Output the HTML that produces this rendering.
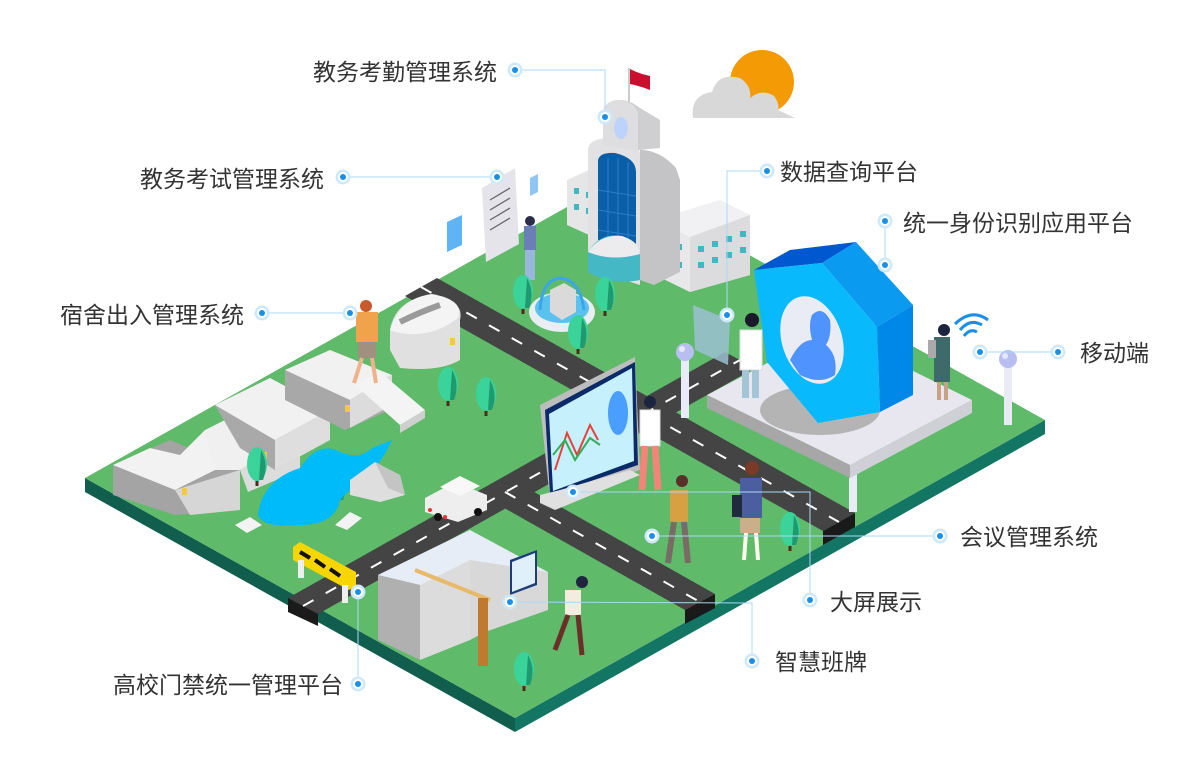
<!DOCTYPE html>
<html><head><meta charset="utf-8"><style>
html,body{margin:0;padding:0;background:#fff;}
svg{display:block}
text{font-family:"Liberation Sans","Noto Sans CJK SC",sans-serif;font-size:23px;fill:#333}
</style></head><body>
<svg width="1200" height="769" viewBox="0 0 1200 769" xmlns="http://www.w3.org/2000/svg">
<defs>
<g id="dot"><circle r="7.5" fill="#cde9fb"/><circle r="5" fill="#fff"/><circle r="3" fill="#1a8fe8"/></g>
<g id="tree"><rect x="-1.5" y="0" width="3" height="16" fill="#4a2e1c"/><ellipse cx="0" cy="-6" rx="10" ry="17" fill="#3ad49a"/><path d="M4 -20 Q12 -6 6 10 L2 10Z" fill="#1f9a70"/></g>
<g id="lamp"><rect x="-4" y="0" width="8" height="60" fill="#e9ecf6"/><circle cx="0" cy="-6" r="9" fill="#b9bef0"/><circle cx="-3" cy="-9" r="3" fill="#e6e8ff"/></g>
</defs>

<!-- platform -->
<polygon points="85,478 515,718 515,732 85,492" fill="#115e4e"/>
<polygon points="515,718 1045,420 1045,434 515,732" fill="#137563"/>
<polygon points="85,478 615,180 1045,420 515,718" fill="#5fba6a"/>

<!-- roads -->
<polygon points="405,296 437,278 855,513 823,531" fill="#444"/>
<polygon points="823,531 855,513 855,527 823,545" fill="#1a1a1a"/>
<polygon points="288,598 318,614 755,368 725,352" fill="#444"/>
<polygon points="288,598 318,614 318,626 288,612" fill="#1a1a1a"/>
<polygon points="490,500 520,484 715,594 685,610" fill="#444"/>
<polygon points="685,610 715,594 715,608 685,624" fill="#1a1a1a"/>
<g stroke="#fff" stroke-width="2" stroke-dasharray="12 14">
<line x1="421" y1="287" x2="839" y2="522"/>
<line x1="303" y1="606" x2="740" y2="360"/>
<line x1="505" y1="492" x2="700" y2="602"/>
</g>

<!-- sun & cloud -->
<circle cx="762" cy="82" r="32" fill="#f39a05"/>
<path d="M693 118 Q690 95 712 92 Q718 72 740 78 Q752 86 750 98 Q762 88 774 96 Q780 104 778 110 L795 118 Z" fill="#d8d8d8"/>

<!-- flag -->
<line x1="629" y1="68" x2="629" y2="110" stroke="#ccc" stroke-width="2"/>
<path d="M630 69 Q640 74 650 76 L650 90 Q640 86 630 84Z" fill="#c8102e"/>

<!-- main building -->
<polygon points="567,180 600,165 600,240 567,225" fill="#e6e6e6"/>
<polygon points="655,220 720,200 750,215 750,275 690,292 655,275" fill="#e8e8ea"/>
<polygon points="655,220 720,200 750,215 690,237" fill="#f1f1f3"/>
<polygon points="690,237 750,215 750,275 690,292" fill="#dcdcde"/>
<g fill="#41b7c4"><rect x="698" y="246" width="6" height="6"/><rect x="712" y="241" width="6" height="6"/><rect x="726" y="236" width="6" height="6"/><rect x="740" y="231" width="6" height="6"/><rect x="698" y="262" width="6" height="6"/><rect x="712" y="257" width="6" height="6"/><rect x="726" y="252" width="6" height="6"/><rect x="740" y="247" width="6" height="6"/><rect x="664" y="240" width="6" height="6"/><rect x="676" y="244" width="6" height="6"/><rect x="664" y="258" width="6" height="6"/><rect x="676" y="262" width="6" height="6"/><rect x="574" y="188" width="5" height="6"/><rect x="586" y="192" width="5" height="6"/><rect x="574" y="204" width="5" height="6"/><rect x="586" y="208" width="5" height="6"/></g>
<!-- tower -->
<path d="M640 150 Q660 150 676 168 L680 180 L680 272 L654 285 L640 280Z" fill="#c4c4c6"/>
<path d="M588 150 Q588 138 612 138 Q640 140 640 155 L640 285 L588 268Z" fill="#e2e2e4"/>
<path d="M603 112 Q605 100 620 100 Q630 100 640 108 L660 120 L660 148 L640 150 L603 145Z" fill="#cfcfd1"/>
<path d="M603 112 Q605 100 620 100 Q636 102 638 115 L638 150 L603 145Z" fill="#dedee0"/>
<ellipse cx="621" cy="128" rx="7" ry="11" fill="#bcd4fb"/>
<path d="M598 160 Q600 152 615 153 Q636 158 636 172 L636 252 L598 240Z" fill="#0a5fa8"/>
<g stroke="#2a7fc8" stroke-width="1"><line x1="608" y1="158" x2="608" y2="244"/><line x1="618" y1="158" x2="618" y2="246"/><line x1="628" y1="162" x2="628" y2="249"/><line x1="598" y1="190" x2="636" y2="196"/><line x1="598" y1="210" x2="636" y2="216"/><line x1="598" y1="230" x2="636" y2="236"/></g>
<path d="M588 252 Q600 232 622 236 Q640 242 640 254 L640 280 Q612 286 588 272Z" fill="#44b9c5"/>
<path d="M588 252 Q600 234 622 236 Q640 242 640 254 Q612 262 588 252Z" fill="#ececee"/>

<!-- paper docs -->
<polygon points="482,188 515,168 519,244 486,262" fill="#e4e4ea"/>
<g stroke="#666" stroke-width="1.3"><line x1="490" y1="200" x2="510" y2="188"/><line x1="490" y1="210" x2="510" y2="198"/><line x1="490" y1="220" x2="510" y2="208"/><line x1="490" y1="230" x2="510" y2="218"/></g>
<polygon points="447,222 462,215 462,245 447,252" fill="#5fb4f5"/>
<polygon points="530,178 538,174 538,192 530,196" fill="#8ec7f5"/>
<rect x="524" y="226" width="12" height="24" fill="#6a7fb8"/><rect x="525" y="250" width="10" height="30" fill="#9bb6dc"/><circle cx="530" cy="221" r="5" fill="#2a2e48"/>

<!-- fountain -->
<ellipse cx="562" cy="312" rx="33" ry="20" fill="#e8eef2"/><ellipse cx="562" cy="308" rx="27" ry="15" fill="#5bc1ee"/>
<polygon points="550,290 564,283 576,290 576,312 562,320 550,312" fill="#dadada"/>
<path d="M540 310 Q542 280 560 278 Q580 280 584 310" stroke="#39a6e8" stroke-width="3" fill="none"/>
<use href="#tree" x="523" y="298"/><use href="#tree" x="605" y="300"/><use href="#tree" x="578" y="338"/>

<!-- WEDS letters -->
<polygon points="113,465 170,440 240,470 240,510 175,515 113,495" fill="#a4a4a4"/>
<polygon points="113,465 150,448 180,455 205,430 225,440 215,470 175,490" fill="#f2f2f2"/>
<polygon points="175,490 240,470 240,510 190,515" fill="#d6d6d6"/>
<polygon points="205,430 255,405 300,432 240,470 215,470" fill="#f0f0f0"/>
<polygon points="240,470 300,432 300,470 248,492" fill="#dcdcdc"/>
<polygon points="215,405 270,378 330,410 330,440 275,470 240,448" fill="#a9a9a9"/>
<polygon points="215,405 270,378 330,410 275,440" fill="#f1f1f1"/>
<polygon points="275,440 330,410 330,440 275,470" fill="#dedede"/>
<polygon points="285,370 330,350 390,380 390,410 345,430 285,400" fill="#a8a8a8"/>
<polygon points="285,370 330,350 392,375 350,400" fill="#f1f1f1"/>
<polygon points="350,400 392,375 392,405 350,428" fill="#dcdcdc"/>
<path d="M390 330 Q395 300 430 295 Q465 300 460 320 L460 360 Q440 372 400 368 L390 350Z" fill="#e0e0e0"/>
<path d="M390 330 Q400 298 432 294 Q465 300 458 318 Q430 340 395 332Z" fill="#f4f4f4"/>
<path d="M400 322 Q420 312 440 305" stroke="#9a9a9a" stroke-width="6" fill="none"/>
<g fill="#f5c842"><rect x="182" y="488" width="5" height="7"/><rect x="262" y="452" width="5" height="7"/><rect x="345" y="405" width="5" height="7"/><rect x="450" y="338" width="5" height="7"/></g>
<polygon points="355,385 380,372 425,410 400,425" fill="#f4f4f4"/>
<polygon points="400,425 425,410 425,418 400,433" fill="#cfcfcf"/>
<rect x="356" y="312" width="22" height="30" fill="#f1a34c"/><rect x="358" y="342" width="18" height="16" fill="#a09080"/><circle cx="366" cy="306" r="6" fill="#c65a2a"/><line x1="362" y1="358" x2="354" y2="383" stroke="#eeb38b" stroke-width="4"/><line x1="372" y1="358" x2="376" y2="383" stroke="#eeb38b" stroke-width="4"/>

<use href="#tree" x="448" y="390"/><use href="#tree" x="486" y="400"/><use href="#tree" x="257" y="470"/><use href="#tree" x="337" y="490"/><use href="#tree" x="790" y="535"/><use href="#tree" x="524" y="675"/>

<path d="M258 515 Q262 480 300 468 Q318 440 340 452 Q360 460 372 448 L392 440 Q378 470 362 478 L340 500 Q335 525 300 525 Q262 528 258 515Z" fill="#00bbf9"/>
<polygon points="350,480 375,462 400,475 405,495 380,502 350,495" fill="#dedede"/>
<polygon points="375,462 400,475 405,495 388,488" fill="#c4c4c4"/>
<polygon points="235,525 250,517 262,525 247,533" fill="#f3f3f3"/><polygon points="335,525 350,512 362,518 347,530" fill="#f3f3f3"/>

<polygon points="425,498 455,482 487,495 487,510 458,522 425,512" fill="#eeeeee"/>
<polygon points="440,487 460,476 480,486 460,496" fill="#f8f8f8"/>
<circle cx="438" cy="517" r="4" fill="#111"/><circle cx="478" cy="512" r="4" fill="#111"/>
<circle cx="430" cy="510" r="2" fill="#e33"/><circle cx="445" cy="517" r="2" fill="#e33"/>

<polygon points="293,547 300,542 356,572 356,586 349,590 293,560" fill="#f7d600"/>
<g stroke="#111" stroke-width="4"><line x1="300" y1="552" x2="310" y2="558"/><line x1="315" y1="560" x2="325" y2="567"/><line x1="330" y1="569" x2="340" y2="576"/></g>
<rect x="298" y="560" width="6" height="18" fill="#eee"/><rect x="342" y="585" width="6" height="18" fill="#eee"/>

<polygon points="378,575 470,530 470,600 378,640" fill="#9e9e9e"/>
<polygon points="378,575 470,530 548,572 470,605 420,585" fill="#e7edf7"/>
<polygon points="420,585 470,560 470,640 420,660" fill="#dcdcdc"/>
<polygon points="378,575 420,585 420,660 378,640" fill="#b0b0b0"/>
<polygon points="470,560 548,572 548,610 485,632 470,640" fill="#d8d8d8"/>
<polygon points="510,560 537,550 537,585 510,595" fill="#1c3d78"/><polygon points="512,562 535,553 535,583 512,592" fill="#dff0fb"/>
<line x1="415" y1="570" x2="490" y2="600" stroke="#e9b96a" stroke-width="4"/>
<rect x="478" y="598" width="10" height="68" fill="#c07a30"/>
<rect x="565" y="590" width="16" height="25" fill="#f3ecdf"/><circle cx="582" cy="582" r="6" fill="#1f2540"/><line x1="568" y1="615" x2="555" y2="650" stroke="#6b2e28" stroke-width="5"/><line x1="578" y1="615" x2="582" y2="655" stroke="#6b2e28" stroke-width="5"/>

<polygon points="540,405 635,357 640,470 550,500" fill="#bdbdbd"/>
<polygon points="545,410 635,362 638,465 550,495" fill="#0b2a6a"/>
<polygon points="549,414 632,368 634,461 553,491" fill="#c6f0fb"/>
<polyline points="555,470 567,433 577,455 590,425 598,440" fill="none" stroke="#e5423e" stroke-width="2"/>
<polyline points="553,455 565,440 575,460 590,438 600,445" fill="none" stroke="#36ad5c" stroke-width="2"/>
<ellipse cx="618" cy="413" rx="10" ry="22" fill="#4a9eff"/>
<polygon points="540,495 560,490 630,470 640,475 555,510 540,503" fill="#e0e0e0"/>
<rect x="640" y="410" width="20" height="36" fill="#fff" stroke="#ddd"/><circle cx="650" cy="402" r="6" fill="#1b2540"/><line x1="645" y1="446" x2="642" y2="490" stroke="#f3847a" stroke-width="7"/><line x1="655" y1="446" x2="658" y2="490" stroke="#f3847a" stroke-width="7"/>
<rect x="670" y="490" width="18" height="32" fill="#d7a042"/><circle cx="682" cy="481" r="6" fill="#5a2f2a"/><line x1="674" y1="522" x2="668" y2="563" stroke="#7a6b66" stroke-width="6"/><line x1="684" y1="522" x2="688" y2="563" stroke="#7a6b66" stroke-width="6"/>
<rect x="740" y="478" width="22" height="40" fill="#4b5ea0"/><circle cx="752" cy="468" r="7" fill="#7a3a28"/><rect x="740" y="518" width="20" height="15" fill="#c9b08a"/><line x1="746" y1="533" x2="744" y2="560" stroke="#ffe" stroke-width="4"/><line x1="756" y1="533" x2="758" y2="560" stroke="#ffe" stroke-width="4"/><rect x="732" y="495" width="10" height="22" fill="#222a3e"/>

<use href="#lamp" x="685" y="358"/><use href="#lamp" x="853" y="452"/><use href="#lamp" x="1008" y="365"/>

<polygon points="707,395 830,330 972,400 850,465" fill="#e8e6ef"/>
<polygon points="707,395 850,465 850,478 707,408" fill="#a7a7a7"/>
<polygon points="850,465 972,400 972,413 850,478" fill="#cfcfd6"/>
<ellipse cx="820" cy="410" rx="60" ry="25" fill="#b4b4b4"/>
<polygon points="754,270 790,250 856,242 822,263" fill="#0058d0"/>
<polygon points="822,263 856,242 913,305 877,327" fill="#0a9af0"/>
<polygon points="877,327 913,305 913,395 880,412" fill="#0088e8"/>
<polygon points="754,270 822,263 877,327 880,412 818,423 767,362" fill="#08b9fb"/>
<ellipse cx="812" cy="340" rx="30" ry="45" transform="rotate(-18 812 340)" fill="#e9ecf5"/>
<path d="M790 360 Q800 340 812 340 Q808 325 812 315 Q822 305 830 320 Q832 335 826 345 Q838 355 835 375 Q820 385 800 375Z" fill="#4f93ff"/>
<polygon points="693,305 730,320 728,365 695,350" fill="#9bbfd1" opacity="0.85"/>
<rect x="740" y="330" width="22" height="40" fill="#fff" stroke="#ddd"/><circle cx="752" cy="320" r="7" fill="#1a1a2a"/><rect x="742" y="370" width="7" height="28" fill="#a4c5d6"/><rect x="752" y="370" width="7" height="28" fill="#a4c5d6"/>
<rect x="934" y="337" width="16" height="45" fill="#3f6a6a"/><circle cx="944" cy="330" r="6" fill="#1b2540"/><rect x="937" y="382" width="4" height="18" fill="#c9a184"/><rect x="944" y="382" width="4" height="18" fill="#c9a184"/><rect x="928" y="340" width="8" height="18" fill="#aaa"/>
<path d="M960 330 Q970 318 982 325" stroke="#1a8fe8" stroke-width="3" fill="none"/><path d="M964 336 Q970 328 977 332" stroke="#1a8fe8" stroke-width="3" fill="none"/><path d="M955 324 Q972 308 988 320" stroke="#1a8fe8" stroke-width="3" fill="none"/>

<g stroke="#a8d8f7" stroke-width="1" fill="none">
<polyline points="515,70 605,70 605,117"/>
<line x1="343" y1="177" x2="497" y2="177"/>
<line x1="262" y1="313" x2="350" y2="313"/>
<polyline points="767,171 727,171 727,315"/>
<line x1="885" y1="221" x2="885" y2="265"/>
<line x1="1058" y1="352" x2="980" y2="352"/>
<line x1="940" y1="536" x2="652" y2="536"/>
<polyline points="810,600 810,492 573,492"/>
<polyline points="752,661 752,603 510,602"/>
<line x1="358" y1="684" x2="358" y2="592"/>
</g>
<use href="#dot" x="515" y="70"/><use href="#dot" x="605" y="117"/>
<use href="#dot" x="343" y="177"/><use href="#dot" x="497" y="177"/>
<use href="#dot" x="262" y="313"/><use href="#dot" x="350" y="313"/>
<use href="#dot" x="767" y="171"/><use href="#dot" x="727" y="315"/>
<use href="#dot" x="885" y="221"/><use href="#dot" x="885" y="265"/>
<use href="#dot" x="1058" y="352"/><use href="#dot" x="980" y="352"/>
<use href="#dot" x="940" y="536"/><use href="#dot" x="652" y="536"/>
<use href="#dot" x="810" y="600"/><use href="#dot" x="573" y="492"/>
<use href="#dot" x="752" y="661"/><use href="#dot" x="510" y="602"/>
<use href="#dot" x="358" y="684"/><use href="#dot" x="358" y="592"/>

<text x="313" y="80">教务考勤管理系统</text>
<text x="140" y="187">教务考试管理系统</text>
<text x="60" y="323">宿舍出入管理系统</text>
<text x="780" y="180">数据查询平台</text>
<text x="903" y="231">统一身份识别应用平台</text>
<text x="1080" y="361">移动端</text>
<text x="960" y="545">会议管理系统</text>
<text x="830" y="610">大屏展示</text>
<text x="775" y="670">智慧班牌</text>
<text x="113" y="693">高校门禁统一管理平台</text>
</svg>
</body></html>
